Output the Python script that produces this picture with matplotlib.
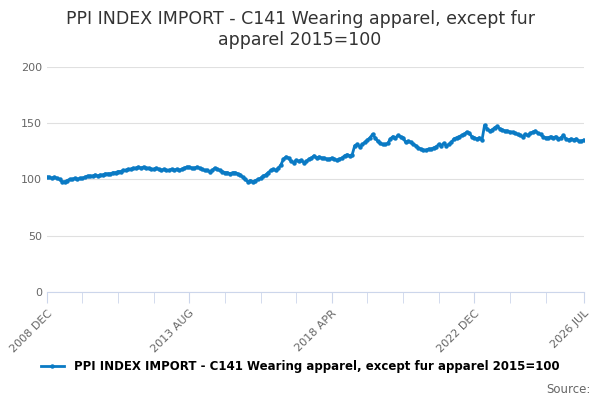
import matplotlib.pyplot as plt
import numpy as np

vals = [102,
 102,101,102,101,100,98,98,99,100,100,101,100,
 101,101,102,103,103,103,104,103,104,104,105,105,
 105,106,106,107,107,108,108,109,109,110,110,111,
 110,111,110,110,109,109,110,109,108,109,108,108,
 109,108,109,108,109,110,111,111,110,110,111,110,
 109,108,108,107,108,110,109,108,107,106,106,105,
 106,106,105,104,102,100,98,99,98,99,100,101,
 103,104,106,108,109,108,110,113,118,120,119,116,
 115,117,116,117,115,116,118,119,121,119,120,119,
 119,118,118,119,118,117,118,119,121,122,121,122,
 130,131,129,131,133,135,137,140,137,134,132,131,
 131,132,136,138,137,139,138,137,133,134,133,131,
 130,128,127,126,126,127,127,128,129,131,130,132,
 130,131,133,136,137,138,139,140,142,141,138,137,
 136,137,135,148,145,143,144,146,147,145,144,143,
 143,142,142,141,140,139,138,140,139,141,142,143,
 141,140,138,137,137,138,137,138,136,137,139,136,
 135,136,135,136,134,134,135]
tick_pos = [0, 56, 112, 168, 211]
tick_labels = ["2008 DEC", "2013 AUG", "2018 APR", "2022 DEC", "2026 JUL"]
title = "PPI INDEX IMPORT - C141 Wearing apparel, except fur\napparel 2015=100"

fig = plt.figure(figsize=(6, 4), dpi=100)
ax = fig.add_axes([0.078, 0.27, 0.895, 0.563])
x = np.arange(len(vals))
ax.plot(x, vals, color="#0a7ac4", lw=2, marker="o", ms=2.2, label=title.replace("\n", " "))
ax.set_xlim(0, 211)
ax.set_ylim(0, 200)
ax.set_yticks([0, 50, 100, 150, 200])
ax.grid(axis="y", color="#e0e0e0", lw=0.8)
ax.set_axisbelow(True)
for s in ["top", "right", "left"]:
    ax.spines[s].set_visible(False)
ax.spines["bottom"].set_color("#ccd6eb")
ax.tick_params(axis="y", length=0, labelcolor="#666666", labelsize=8)
ax.set_xticks(tick_pos)
ax.set_xticklabels(tick_labels, rotation=45, ha="right", rotation_mode="anchor",
                   color="#666666", fontsize=8)
ax.set_xticks([14, 28, 42, 70, 84, 98, 126, 140, 154, 182, 196], minor=True)
ax.tick_params(axis="x", which="both", color="#ccd6eb", length=8)
fig.suptitle(title, fontsize=12.5, color="#333333", y=0.975)
fig.legend(loc="lower center", bbox_to_anchor=(0.5, 0.04), frameon=False,
           fontsize=8.5, handlelength=2, prop={"weight": "bold", "size": 8.5})
fig.text(0.985, 0.01, "Source:", ha="right", va="bottom", fontsize=8.5, color="#666666")
fig.savefig("out.png")
